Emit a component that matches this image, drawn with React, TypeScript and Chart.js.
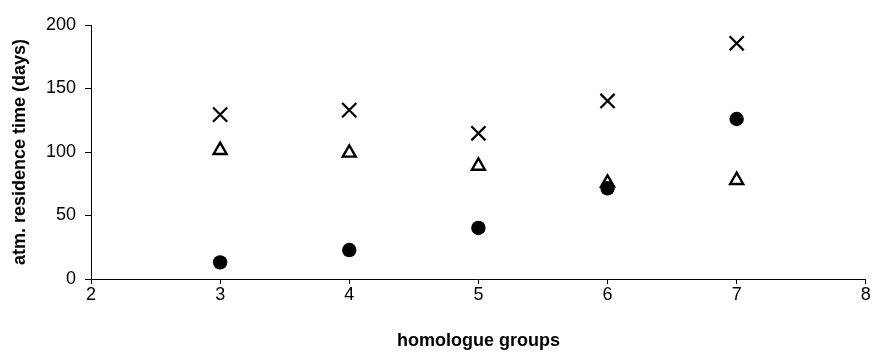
import React, { useEffect, useRef } from "react";
import { Chart, registerables } from "chart.js";

Chart.register(...registerables);

const groups = [3, 4, 5, 6, 7];
const crossValues = [129.4, 133, 114.7, 140.2, 185.6];
const triangleValues = [101.4, 99.3, 89, 75.7, 77.8];
const circleValues = [13.1, 22.8, 40.2, 71.4, 126];
const xTickRange = [2, 8];
const yTickRange = [0, 200];

const FONT = "'Liberation Sans', Arial, sans-serif";

export default function App() {
  const ref = useRef<HTMLCanvasElement | null>(null);

  useEffect(() => {
    if (!ref.current) return;
    const toPts = (vals: number[]) => groups.map((g, i) => ({ x: g, y: vals[i] }));
    const chart = new Chart(ref.current, {
      type: "scatter",
      data: {
        datasets: [
          {
            label: "cross",
            data: toPts(crossValues),
            pointStyle: "crossRot",
            pointRadius: 10,
            borderWidth: 2.2,
            borderColor: "#000",
            backgroundColor: "#000",
            order: 3,
          },
          {
            label: "triangle",
            data: toPts(triangleValues),
            pointStyle: "triangle",
            pointRadius: 7.5,
            borderWidth: 2.4,
            borderColor: "#000",
            backgroundColor: "#fff",
            order: 2,
          },
          {
            label: "circle",
            data: toPts(circleValues),
            pointStyle: "circle",
            pointRadius: 7.2,
            borderWidth: 0,
            borderColor: "#000",
            backgroundColor: "#000",
            order: 1,
          },
        ],
      },
      options: {
        animation: false,
        responsive: false,
        events: [],
        layout: { padding: { top: 25, right: 8, left: 0, bottom: 0 } },
        plugins: { legend: { display: false }, tooltip: { enabled: false } },
        scales: {
          x: {
            type: "linear",
            min: xTickRange[0],
            max: xTickRange[1],
            ticks: {
              stepSize: 1,
              color: "#000",
              font: { family: FONT, size: 18 },
              padding: 0,
            },
            grid: {
              drawOnChartArea: false,
              drawTicks: true,
              tickLength: 5,
              color: "#000",
            },
            border: { color: "#000", width: 1 },
            title: {
              display: true,
              text: "homologue groups",
              color: "#000",
              font: { family: FONT, size: 18, weight: "bold" },
              padding: { top: 0, bottom: 2 },
            },
            afterFit: (s: any) => {
              s.height = 75;
              s.paddingRight = 0;
              s.paddingLeft = 0;
            },
          },
          y: {
            type: "linear",
            min: yTickRange[0],
            max: yTickRange[1],
            ticks: {
              stepSize: 50,
              color: "#000",
              font: { family: FONT, size: 18 },
              padding: 9,
            },
            grid: {
              drawOnChartArea: false,
              drawTicks: true,
              tickLength: 6,
              color: "#000",
            },
            border: { color: "#000", width: 1 },
            title: {
              display: true,
              text: "atm. residence time (days)",
              color: "#000",
              font: { family: FONT, size: 18, weight: "bold" },
              padding: { top: 9, bottom: 0 },
            },
            afterFit: (s: any) => {
              s.width = 91;
              s.paddingTop = 0;
              s.paddingBottom = 0;
            },
          },
        },
      },
    });
    return () => chart.destroy();
  }, []);

  return (
    <div style={{ position: "absolute", left: 0, top: 0, width: 878, height: 354, background: "#fff" }}>
      <canvas ref={ref} width={878} height={354} style={{ display: "block", width: 878, height: 354 }} />
    </div>
  );
}
